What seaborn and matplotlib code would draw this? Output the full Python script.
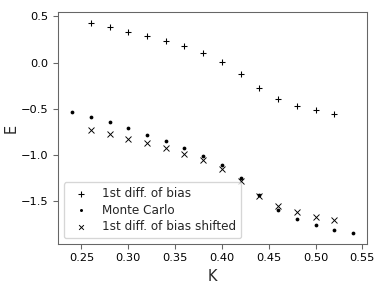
import numpy as np
import pandas as pd
import seaborn as sns
import matplotlib
matplotlib.use("Agg")
import matplotlib.pyplot as plt

# valores
k_bias = [0.26, 0.28, 0.30, 0.32, 0.34, 0.36, 0.38, 0.40, 0.42, 0.44, 0.46, 0.48, 0.50, 0.52]
e_bias = [0.433, 0.39, 0.337, 0.29, 0.233, 0.175, 0.10, 0.004, -0.122, -0.276, -0.398, -0.466, -0.509, -0.552]

k_mc = [0.24, 0.26, 0.28, 0.30, 0.32, 0.34, 0.36, 0.38, 0.40, 0.42, 0.44, 0.46, 0.48, 0.50, 0.52, 0.54]
e_mc = [-0.538, -0.588, -0.645, -0.71, -0.778, -0.849, -0.925, -1.014, -1.111, -1.244,
        -1.434, -1.588, -1.69, -1.753, -1.806, -1.846]

k_shift = [0.26, 0.28, 0.30, 0.32, 0.34, 0.36, 0.38, 0.40, 0.42, 0.44, 0.46, 0.48, 0.50, 0.52]
e_shift = [-0.724, -0.774, -0.828, -0.865, -0.925, -0.986, -1.057, -1.15, -1.28, -1.437,
           -1.552, -1.62, -1.664, -1.706]

sns.set_style("ticks")
plt.rcParams['font.family'] = ['DejaVu Sans']

fig = plt.figure(figsize=(4, 3), dpi=96)
ax = fig.add_axes([0.151, 0.153, 0.805, 0.805])

sns.scatterplot(x=k_bias, y=e_bias, marker="+", color="black", s=24, linewidth=0.8,
                label="1st diff. of bias", ax=ax)
sns.scatterplot(x=k_mc, y=e_mc, marker=".", color="black", s=32, linewidth=0,
                label="Monte Carlo", ax=ax)
sns.scatterplot(x=k_shift, y=e_shift, marker="x", color="black", s=20, linewidth=0.7,
                label="1st diff. of bias shifted", ax=ax)

for sp in ax.spines.values():
    sp.set_color("0.4")
ax.set_xticks([0.25, 0.30, 0.35, 0.40, 0.45, 0.50, 0.55])
ax.set_yticks([0.5, 0.0, -0.5, -1.0, -1.5])
ax.tick_params(labelsize=8.5, colors="0.4", labelcolor="black")
ax.set_xlabel("K", fontsize=11)
ax.set_ylabel("E", fontsize=11, labelpad=2)
ax.legend(loc="lower left", fontsize=9, markerscale=0.8, labelspacing=0.3)

fig.savefig("out.png", dpi=96)
